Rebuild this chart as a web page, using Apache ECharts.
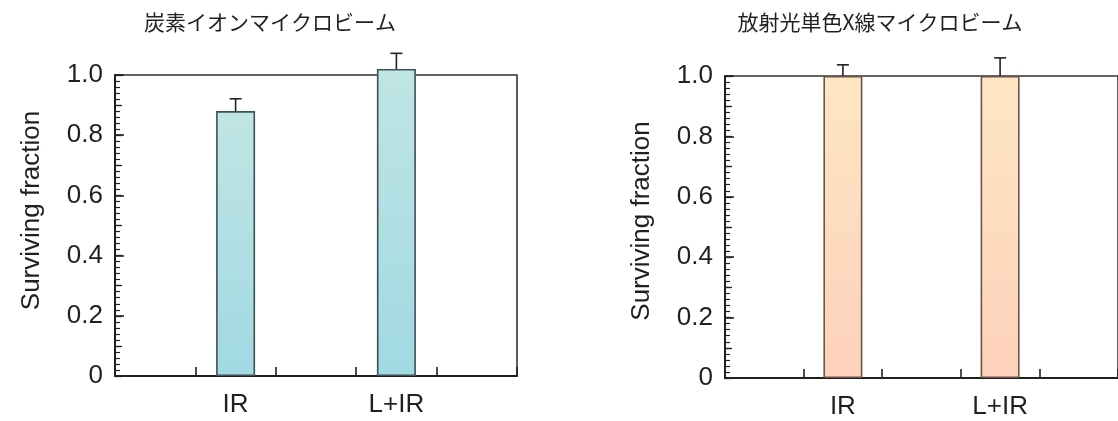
<!DOCTYPE html>
<html><head><meta charset="utf-8">
<script src="https://cdn.jsdelivr.net/npm/echarts@6/dist/echarts.min.js"></script>
<style>html,body{margin:0;padding:0;background:#fff}#c{width:1118px;height:421px}</style>
</head><body><div id="c"></div>
<script>
// ---- data ----
const categories = ['IR', 'L+IR'];
const carbonMean = [0.88, 1.02];
const carbonUpper = [0.921, 1.072];
const xrayMean = [1.0, 1.0];
const xrayUpper = [1.037, 1.06];
const yTickValues = [0, 0.2, 0.4, 0.6, 0.8, 1.0];
const titles = ['炭素イオンマイクロビーム', '放射光単色X線マイクロビーム'];
const yName = 'Surviving fraction';

// category slots with empty spacers: '', IR, '', L+IR, ''
const axisCats = [];
categories.forEach(c => { axisCats.push('', c); });
axisCats.push('');

function barData(means) {
  const d = axisCats.map(() => null);
  means.forEach((m, i) => { d[2 * i + 1] = m; });
  return d;
}
function errData(means, uppers) {
  return means.map((m, i) => [2 * i + 1, m, uppers[i]]);
}

const TXT = '#231f20';
const FONT = '"Liberation Sans", Arial, Helvetica, sans-serif';
const yMin = yTickValues[0], yMax = yTickValues[yTickValues.length - 1];

const grids = [
  { left: 115, top: 75, width: 402, height: 301 },
  { left: 725, top: 76, width: 402, height: 302 }
];
const namePad = [[0, 0, 0, 30], [0, 0, 0, 12]];

const option = {
  animation: false,
  backgroundColor: '#fff',
  grid: grids.map(g => Object.assign({ show: true, borderColor: '#333', borderWidth: 1.6, backgroundColor: 'transparent' }, g)),
  graphic: titles.map((t, i) => ({
    type: 'text',
    x: i === 0 ? 270 : 880,
    y: 22,
    style: { text: t, fill: TXT, font: '21px "Noto Sans CJK JP"', align: 'center', verticalAlign: 'middle' }
  })),
  xAxis: [0, 1].map(i => ({
    type: 'category', gridIndex: i, data: axisCats,
    boundaryGap: true,
    axisLine: { lineStyle: { color: '#1e1e1e', width: 2 } },
    axisTick: { show: true, inside: true, length: 9, interval: 0, lineStyle: { color: '#222', width: 1.6 } },
    axisLabel: { interval: 0, color: TXT, fontSize: 26, fontFamily: FONT, margin: 16 },
    splitLine: { show: false }
  })),
  yAxis: [].concat(...[0, 1].map(i => ([
    {
      type: 'value', gridIndex: i, position: 'left', min: yMin, max: yMax, interval: 0.2,
      name: yName, nameLocation: 'middle', nameRotate: 90, nameGap: 70,
      nameTextStyle: { color: TXT, fontSize: 26, fontFamily: FONT, padding: namePad[i] },
      axisLine: { show: true, lineStyle: { color: '#1e1e1e', width: 2 } },
      axisTick: { show: true, inside: true, length: 9, lineStyle: { color: '#222', width: 1.6 } },
      minorTick: { show: true, splitNumber: 10, length: 5, lineStyle: { color: '#222', width: 1.2 } },
      axisLabel: { color: TXT, fontSize: 26, fontFamily: FONT, margin: 12,
        formatter: v => (v === 0 ? '0' : v.toFixed(1)) },
      splitLine: { show: false }, minorSplitLine: { show: false }
    },
    {
      type: 'value', gridIndex: i, position: 'left', offset: 0, min: yMin, max: yMax, interval: 0.1,
      axisLine: { show: false },
      axisTick: { show: true, inside: true, length: 7, lineStyle: { color: '#222', width: 1.3 } },
      axisLabel: { show: false }, splitLine: { show: false }
    }
  ]))),
  series: []
};

const palettes = [
  { top: '#c0e5e4', bottom: '#a1d9e3', border: '#3d5253' },
  { top: '#fee6c3', bottom: '#fdd1bb', border: '#6b5548' }
];
[[carbonMean, carbonUpper], [xrayMean, xrayUpper]].forEach(([means, ups], i) => {
  const p = palettes[i];
  option.series.push({
    type: 'bar', xAxisIndex: i, yAxisIndex: 2 * i, data: barData(means),
    barWidth: 39, clip: false, z: 3,
    itemStyle: {
      color: new echarts.graphic.LinearGradient(0, 0, 0, 1, [
        { offset: 0, color: p.top }, { offset: 1, color: p.bottom }]),
      borderColor: p.border, borderWidth: 1.6
    }
  });
  option.series.push({
    type: 'custom', xAxisIndex: i, yAxisIndex: 2 * i, data: errData(means, ups),
    clip: false, z: 4, encode: { x: 0, y: [1, 2] },
    renderItem: (params, api) => {
      const x = api.value(0);
      const p0 = api.coord([x, api.value(1)]);
      const p1 = api.coord([x, api.value(2)]);
      const hw = 6;
      const st = { stroke: '#222', lineWidth: 1.6 };
      return { type: 'group', children: [
        { type: 'line', shape: { x1: p0[0], y1: p0[1], x2: p1[0], y2: p1[1] }, style: st },
        { type: 'line', shape: { x1: p1[0] - hw, y1: p1[1], x2: p1[0] + hw, y2: p1[1] }, style: st }
      ] };
    }
  });
});

const chart = echarts.init(document.getElementById('c'), null, { renderer: 'canvas' });
chart.setOption(option);
</script></body></html>
